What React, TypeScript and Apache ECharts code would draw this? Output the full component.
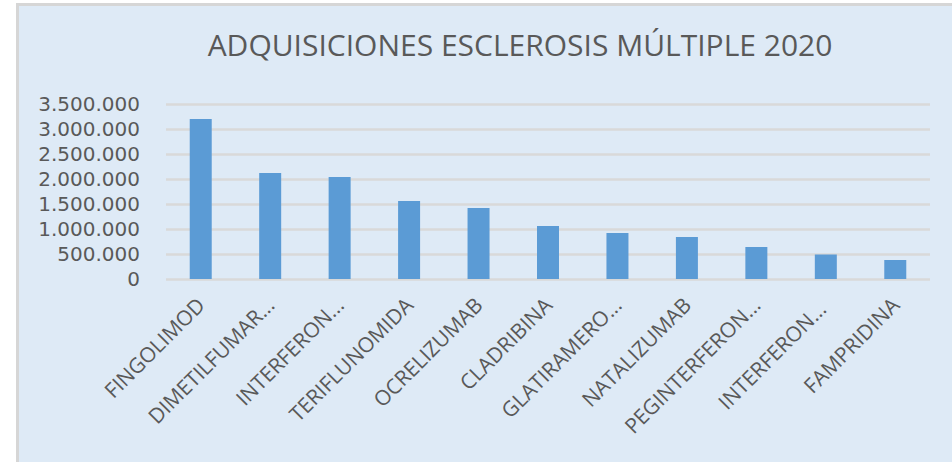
import React, { useEffect, useRef } from "react";
import * as echarts from "echarts";

const titleText = "ADQUISICIONES ESCLEROSIS MÚLTIPLE 2020";
const categories = [
  "FINGOLIMOD",
  "DIMETILFUMAR...",
  "INTERFERON...",
  "TERIFLUNOMIDA",
  "OCRELIZUMAB",
  "CLADRIBINA",
  "GLATIRAMERO...",
  "NATALIZUMAB",
  "PEGINTERFERON...",
  "INTERFERON... ",
  "FAMPRIDINA",
];
const values = [3200000, 2120000, 2040000, 1560000, 1420000, 1060000, 920000, 840000, 640000, 490000, 380000];
const yMin = 0;
const yMax = 3500000;
const yStep = 500000;

function fmt(v: number): string {
  return String(Math.round(v)).replace(/\B(?=(\d{3})+(?!\d))/g, ".");
}

export default function App() {
  const ref = useRef<HTMLDivElement>(null);
  useEffect(() => {
    if (!ref.current) return;
    const chart = echarts.init(ref.current, undefined, { renderer: "svg" });
    const font = "'Open Sans', 'Noto Sans', sans-serif";
    chart.setOption({
      animation: false,
      backgroundColor: "#ffffff",
      graphic: [
        {
          type: "rect",
          z: -10,
          silent: true,
          shape: { x: 17.5, y: 4.5, width: 1000, height: 500 },
          style: { fill: "#deeaf6", stroke: "#d6d6d6", lineWidth: 3 },
        },
      ],
      title: {
        text: titleText,
        left: 515,
        top: 24,
        textAlign: "center",
        textStyle: { fontFamily: font, fontSize: 30, fontWeight: "normal", color: "#595959" },
      },
      grid: { left: 166, right: 22, top: 104, bottom: 183 },
      xAxis: {
        type: "category",
        data: categories,
        axisLine: { show: false },
        axisTick: { show: false },
        axisLabel: {
          interval: 0,
          rotate: 45,
          margin: 22,
          fontFamily: font,
          fontSize: 21,
          color: "#595959",
        },
      },
      yAxis: {
        type: "value",
        min: yMin,
        max: yMax,
        interval: yStep,
        axisLine: { show: false },
        axisTick: { show: false },
        splitLine: { lineStyle: { color: "#d9d9d9", width: 2.5 } },
        axisLabel: {
          margin: 26,
          fontFamily: "'DejaVu Sans', sans-serif",
          fontSize: 20,
          lineHeight: 20,
          color: "#595959",
          formatter: (v: number) => fmt(v),
        },
      },
      series: [
        {
          type: "bar",
          data: values,
          barWidth: 22,
          itemStyle: { color: "#5b9bd5" },
        },
      ],
    });
    return () => chart.dispose();
  }, []);
  return (
    <div
      ref={ref}
      style={{ position: "absolute", left: 0, top: 0, width: 952, height: 462 }}
    />
  );
}
